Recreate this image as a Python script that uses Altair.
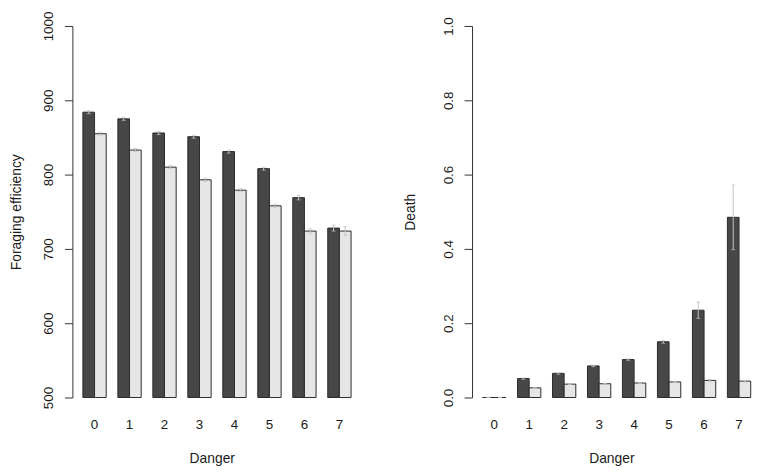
import altair as alt
import pandas as pd

danger = ["0", "1", "2", "3", "4", "5", "6", "7"]
groups = ["A", "B"]

forage_dark = [884, 875, 856, 851, 831, 808, 769, 728]
forage_light = [855, 833, 810, 793, 779, 758, 724, 724]
forage_dark_err = [2, 2, 2, 2, 2, 2, 3, 4]
forage_light_err = [2, 2, 2, 2, 2, 2, 3, 6]

death_dark = [0.0, 0.051, 0.065, 0.085, 0.102, 0.150, 0.235, 0.485]
death_light = [0.0, 0.026, 0.036, 0.037, 0.039, 0.042, 0.046, 0.044]
death_dark_err = [0.0, 0.002, 0.002, 0.002, 0.002, 0.004, 0.022, 0.087]
death_light_err = [0.0, 0.001, 0.001, 0.001, 0.001, 0.001, 0.002, 0.002]

forage_ticks = [500, 600, 700, 800, 900, 1000]
death_ticks = [0.0, 0.2, 0.4, 0.6, 0.8, 1.0]

FONT = "Liberation Sans"
W = 281.3
H = 375


def make_df(dark, light, dark_err, light_err, base):
    rows = []
    for i, d in enumerate(danger):
        for g, v, e in ((groups[0], dark[i], dark_err[i]), (groups[1], light[i], light_err[i])):
            rows.append({"Danger": d, "Group": g, "value": v, "lo": v - e,
                         "hi": v + e, "base": base})
    return pd.DataFrame(rows)


def panel(df, ytitle, domain, ticks, fmt, title_x):
    x = alt.X("Danger:N", sort=danger,
              scale=alt.Scale(paddingInner=1 / 3, paddingOuter=0.15, align=1),
              axis=alt.Axis(title="Danger", domain=False, ticks=False, tickSize=0,
                            labelPadding=27, labelAngle=0, labelBaseline="middle",
                            titleX=W / 2, titleY=62, titleAlign="center",
                            titleBaseline="middle"))
    xo = alt.XOffset("Group:N", sort=groups, scale=alt.Scale(paddingInner=0, paddingOuter=0))
    yaxis = alt.Axis(values=ticks, format=fmt, labelAngle=270, labelAlign="center",
                     labelBaseline="alphabetic", labelPadding=12, tickSize=8,
                     title=ytitle, titleX=title_x, titleY=H / 2, titleAngle=270,
                     titleAlign="center", titleBaseline="middle", grid=False)
    yscale = alt.Scale(domain=domain, zero=False, nice=False)
    bars = alt.Chart(df).mark_bar(stroke="#2b2b2b", strokeWidth=1).encode(
        x=x, xOffset=xo,
        y=alt.Y("value:Q", scale=yscale, axis=yaxis, title=ytitle),
        y2=alt.Y2("base:Q"),
        color=alt.Color("Group:N", scale=alt.Scale(domain=groups, range=["#474747", "#e6e6e6"]),
                        legend=None),
    )
    err = alt.Chart(df).mark_rule(color="#c2c2c2", strokeWidth=1).encode(
        x=x, xOffset=xo,
        y=alt.Y("lo:Q", scale=yscale, axis=yaxis, title=ytitle),
        y2=alt.Y2("hi:Q"),
    )
    cap_lo = alt.Chart(df).mark_tick(color="#c2c2c2", thickness=1, size=4).encode(
        x=x, xOffset=xo, y=alt.Y("lo:Q", scale=yscale, axis=yaxis, title=ytitle))
    cap_hi = alt.Chart(df).mark_tick(color="#c2c2c2", thickness=1, size=4).encode(
        x=x, xOffset=xo, y=alt.Y("hi:Q", scale=yscale, axis=yaxis, title=ytitle))
    return alt.layer(bars, err, cap_lo, cap_hi).properties(width=W, height=H)


left = panel(make_df(forage_dark, forage_light, forage_dark_err, forage_light_err, 500),
             "Foraging efficiency", [500, 1000], forage_ticks, "d", -56)
right = panel(make_df(death_dark, death_light, death_dark_err, death_light_err, 0.0),
              "Death", [0, 1], death_ticks, ".1f", -62)

chart = alt.hconcat(left, right, spacing=121.4, bounds="flush").properties(
    padding={"left": 2, "top": 0, "right": 0, "bottom": 0}, background="white"
).configure_view(stroke=None).configure_axis(
    labelFont=FONT, titleFont=FONT, labelFontSize=13.5, titleFontSize=14,
    labelColor="#1a1a1a", titleColor="#1a1a1a", titleFontWeight="normal",
    domainColor="#333333", tickColor="#333333", domainWidth=1, tickWidth=1,
)

chart.save("out.html", embed_options={"renderer": "svg", "actions": False})
